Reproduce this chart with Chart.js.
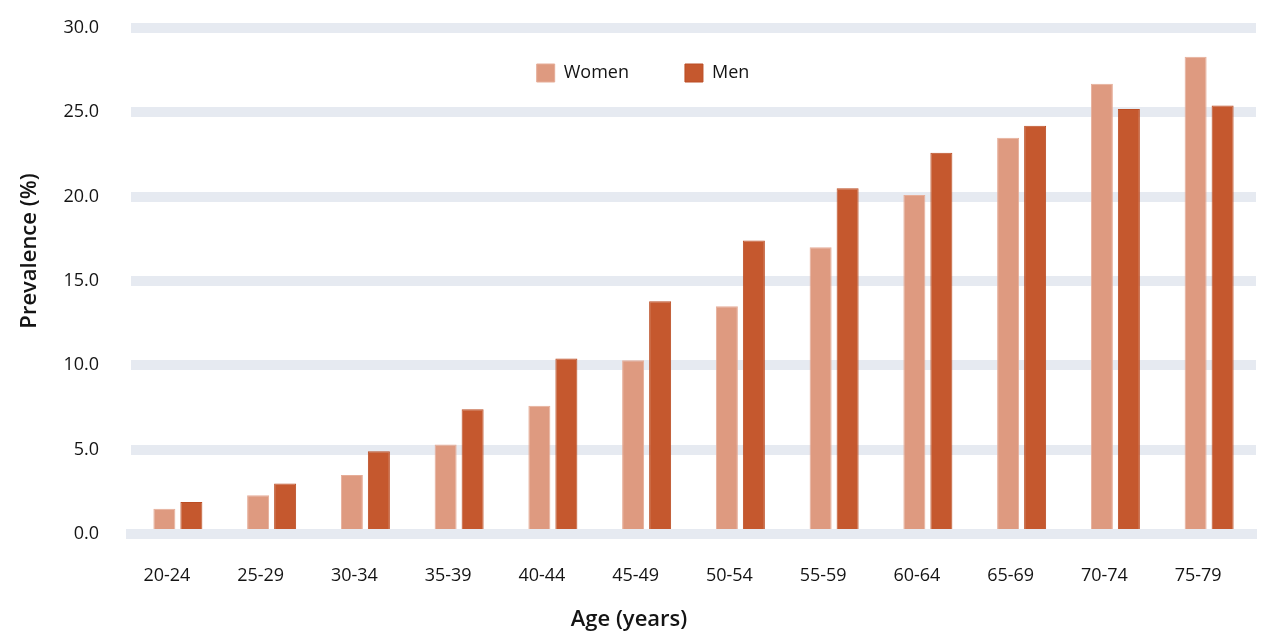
<!DOCTYPE html>
<html>
<head>
<meta charset="utf-8">
<title>Prevalence by age</title>
<script src="https://cdn.jsdelivr.net/npm/chart.js@4.4.1/dist/chart.umd.min.js"></script>
<style>
  html, body { margin: 0; padding: 0; background: #fff; }
  #wrap { width: 1280px; height: 640px; }
</style>
</head>
<body>
<div id="wrap"><canvas id="barChart"></canvas></div>
<script>
const ageGroups = ['20-24', '25-29', '30-34', '35-39', '40-44', '45-49',
                   '50-54', '55-59', '60-64', '65-69', '70-74', '75-79'];
const women = [1.5, 2.3, 3.5, 5.3, 7.6, 10.3, 13.5, 17.0, 20.1, 23.5, 26.7, 28.3];
const men   = [1.9, 3.0, 4.9, 7.4, 10.4, 13.8, 17.4, 20.5, 22.6, 24.2, 25.2, 25.4];
const yMin = 0, yMax = 30, yStep = 5;

const COLORS = {
    women: '#de9a80',
    men: '#c5582e',
    grid: '#e6eaf1',
    text: '#141414'
};

Chart.defaults.font.family = '"Open Sans", "Noto Sans", sans-serif';
Chart.defaults.color = COLORS.text;

// legend takes no room and floats inside the plot, centred on the canvas
const legendPlace = {
    id: 'legendPlace',
    afterInit(chart) {
        const lg = chart.legend;
        const fit = lg.fit.bind(lg);
        lg.fit = function () { fit(); this.height = 0; };
    },
    afterLayout(chart) {
        const lg = chart.legend;
        lg.left = 3;
        lg.right = chart.width + 3;
        lg.top = 8;
        lg.height = 100;
        lg.bottom = lg.top + lg.height;
    }
};

// axis titles drawn where the original has them
const axisTitles = {
    id: 'axisTitles',
    afterDraw(chart) {
        const ctx = chart.ctx;
        ctx.save();
        ctx.font = '600 22px "Open Sans"';
        ctx.fillStyle = COLORS.text;
        ctx.textAlign = 'center';
        ctx.textBaseline = 'middle';
        ctx.fillText('Age (years)', 629, 620);
        ctx.translate(30, 251);
        ctx.rotate(-Math.PI / 2);
        ctx.fillText('Prevalence (%)', 0, 0);
        ctx.restore();
    }
};

const ctx = document.getElementById('barChart').getContext('2d');
new Chart(ctx, {
    type: 'bar',
    data: {
        labels: ageGroups,
        datasets: [
            {
                label: 'Women',
                data: women,
                backgroundColor: COLORS.women,
                borderColor: '#e6ad98',
                borderWidth: 1,
                categoryPercentage: 0.576,
                barPercentage: 0.815
            },
            {
                label: 'Men',
                data: men,
                backgroundColor: COLORS.men,
                borderColor: '#bb4d24',
                borderWidth: 1,
                categoryPercentage: 0.576,
                barPercentage: 0.815
            }
        ]
    },
    options: {
        responsive: true,
        maintainAspectRatio: false,
        animation: false,
        layout: { padding: { top: 28, right: 24, left: 0, bottom: 0 } },
        plugins: {
            legend: {
                position: 'top',
                labels: {
                    boxWidth: 18,
                    boxHeight: 18,
                    padding: 56,
                    font: { size: 18 },
                    color: COLORS.text
                }
            },
            tooltip: { enabled: false }
        },
        scales: {
            x: {
                z: 1,
                grid: { display: false, drawTicks: false },
                border: { display: true, color: COLORS.grid, width: 10 },
                ticks: { font: { size: 18 }, padding: 31, labelOffset: -11, color: COLORS.text },
                afterFit: s => { s.height = 106; }
            },
            y: {
                min: yMin,
                max: yMax,
                grid: { color: COLORS.grid, lineWidth: 10, drawTicks: false },
                border: { display: false },
                ticks: {
                    stepSize: yStep,
                    padding: 32,
                    font: { size: 18 },
                    color: COLORS.text,
                    callback: v => v.toFixed(1)
                },
                afterFit: s => {
                    s.width = 131;
                    s.paddingTop = 0;
                    s.paddingBottom = 0;
                }
            }
        }
    },
    plugins: [legendPlace, axisTitles]
});
</script>
</body>
</html>
